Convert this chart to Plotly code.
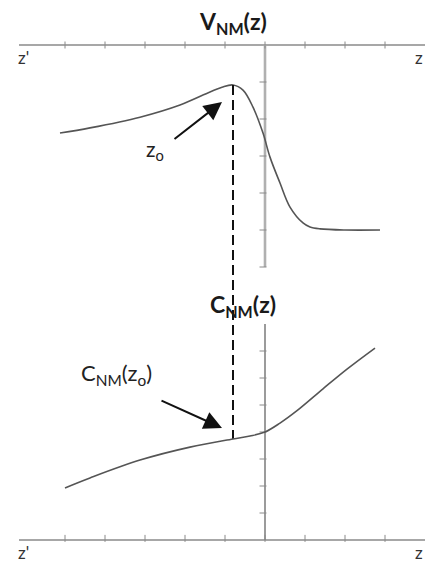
import plotly.graph_objects as go

# ---- data -------------------------------------------------------------
# upper panel: potential V_NM(z)
v_z = [-5.125, -4.375, -3.125, -2.125, -1.375, -1.075, -0.8, -0.55,
       -0.3, -0.05, 0.125, 0.375, 0.625, 0.95, 1.125, 1.375, 2.0, 2.875]
v_val = [-2.38, -2.24, -1.95, -1.62, -1.27, -1.14, -1.08, -1.22,
         -1.68, -2.38, -3.03, -3.73, -4.38, -4.81, -4.92, -4.97, -5.0, -5.0]

# lower panel: C_NM(z)
c_z = [-5.0, -4.375, -3.125, -1.875, -0.8, -0.375, 0.0, 0.375, 0.8, 1.45, 2.05, 2.75]
c_val = [1.93, 2.30, 2.96, 3.44, 3.74, 3.85, 4.0, 4.33, 4.79, 5.6, 6.33, 7.11]

# axis tick positions
z_ticks = [-5, -4, -3, -2, -1, 0, 1, 2, 3]
v_ticks = [-1, -2, -3, -4, -5, -6]
c_ticks = [1, 2, 3, 4, 5, 6, 7]

z_min, z_max = -6.15, 4.0
v_axis_bottom = -6
c_axis_top = 8

# peak of V marks z0
i0 = v_val.index(max(v_val))
z0 = v_z[i0]
c_at_z0 = c_val[c_z.index(z0)]

# ---- coordinate systems -----------------------------------------------
W, H = 425, 566
X_RANGE = [-6.625, 4.0]
Y1_RANGE = [-14.08, 1.216]   # V axis
Y2_RANGE = [-0.963, 20.0]    # C axis


def v_to_c(v):
    """Map a V-axis value onto the C-axis scale (same vertical pixel)."""
    frac = (v - Y1_RANGE[0]) / (Y1_RANGE[1] - Y1_RANGE[0])
    return Y2_RANGE[0] + frac * (Y2_RANGE[1] - Y2_RANGE[0])


AXIS = "#8a8a8a"
CURVE = "#555555"


def tick_marks(xs, ys, symbol, axis):
    return go.Scatter(x=xs, y=ys, mode="markers", yaxis=axis,
                      marker=dict(symbol=symbol, size=5, color=AXIS,
                                  line=dict(color=AXIS, width=1)))


fig = go.Figure()

# upper panel axes
fig.add_trace(go.Scatter(x=[z_min, z_max], y=[0, 0], mode="lines",
                         line=dict(color=AXIS, width=1.6), yaxis="y"))
fig.add_trace(go.Scatter(x=[0, 0], y=[0, v_axis_bottom], mode="lines",
                         line=dict(color="#b0b0b0", width=2.6), yaxis="y"))
fig.add_trace(tick_marks(z_ticks, [0] * len(z_ticks), "line-ns-open", "y"))
fig.add_trace(tick_marks([-0.05] * len(v_ticks), v_ticks, "line-ew-open", "y"))

# lower panel axes
fig.add_trace(go.Scatter(x=[z_min, z_max], y=[0, 0], mode="lines",
                         line=dict(color=AXIS, width=1.6), yaxis="y2"))
fig.add_trace(go.Scatter(x=[0, 0], y=[0, c_axis_top], mode="lines",
                         line=dict(color="#7a7a7a", width=1.5), yaxis="y2"))
fig.add_trace(tick_marks(z_ticks, [0.06] * len(z_ticks), "line-ns-open", "y2"))
fig.add_trace(tick_marks([-0.05] * len(c_ticks), c_ticks, "line-ew-open", "y2"))

# dashed guide from the V peak down to C(z0)
fig.add_trace(go.Scatter(x=[z0, z0], y=[v_to_c(v_val[i0]), c_at_z0], mode="lines",
                         line=dict(color="#111111", width=2, dash="10px,5px"),
                         yaxis="y2"))

# curves
fig.add_trace(go.Scatter(x=v_z, y=v_val, mode="lines",
                         line=dict(color=CURVE, width=1.6, shape="spline", smoothing=1.0),
                         yaxis="y"))
fig.add_trace(go.Scatter(x=c_z, y=c_val, mode="lines",
                         line=dict(color=CURVE, width=1.6, shape="spline", smoothing=1.0),
                         yaxis="y2"))

FONT = "Lato"
ann = []
ann.append(dict(x=-0.8, y=0.62, xref="x", yref="y", showarrow=False,
                text="<b>V<sub>NM</sub>(z)</b>",
                font=dict(family=FONT, size=23, color="#1a1a1a")))
ann.append(dict(x=-0.55, y=8.67, xref="x", yref="y2", showarrow=False,
                text="<b>C<sub>NM</sub>(z)</b>",
                font=dict(family=FONT, size=23, color="#1a1a1a")))
ann.append(dict(x=-2.75, y=-2.84, xref="x", yref="y", showarrow=False,
                text="z<sub>o</sub>",
                font=dict(family=FONT, size=21, color="#222222")))
ann.append(dict(x=-3.725, y=6.15, xref="x", yref="y2", showarrow=False,
                text="C<sub>NM</sub>(z<sub>o</sub>)",
                font=dict(family=FONT, size=22, color="#222222")))
for yref, yv in (("y", -0.35), ("y2", -0.48)):
    ann.append(dict(x=-6.05, y=yv, xref="x", yref=yref, showarrow=False,
                    text="z'", font=dict(family=FONT, size=17, color="#333333")))
    ann.append(dict(x=3.99, y=yv, xref="x", yref=yref, showarrow=False,
                    xanchor="right", text="z",
                    font=dict(family=FONT, size=17, color="#333333")))

# arrows pointing at z0 and C(z0)
ann.append(dict(x=-1.075, y=-1.54, ax=-2.3, ay=-2.57, xref="x", yref="y",
                axref="x", ayref="y", text="", showarrow=True,
                arrowhead=2, arrowsize=1.8, arrowwidth=2, arrowcolor="#111111"))
ann.append(dict(x=-1.075, y=4.15, ax=-2.625, ay=5.19, xref="x", yref="y2",
                axref="x", ayref="y2", text="", showarrow=True,
                arrowhead=2, arrowsize=1.8, arrowwidth=2, arrowcolor="#111111"))

fig.update_layout(
    width=W, height=H,
    margin=dict(l=0, r=0, t=0, b=0),
    paper_bgcolor="white", plot_bgcolor="white",
    showlegend=False,
    xaxis=dict(range=X_RANGE, visible=False, fixedrange=True),
    yaxis=dict(range=Y1_RANGE, visible=False, domain=[0, 1]),
    yaxis2=dict(range=Y2_RANGE, visible=False, overlaying="y", domain=[0, 1]),
    annotations=ann,
)

fig.write_html("out.html")
